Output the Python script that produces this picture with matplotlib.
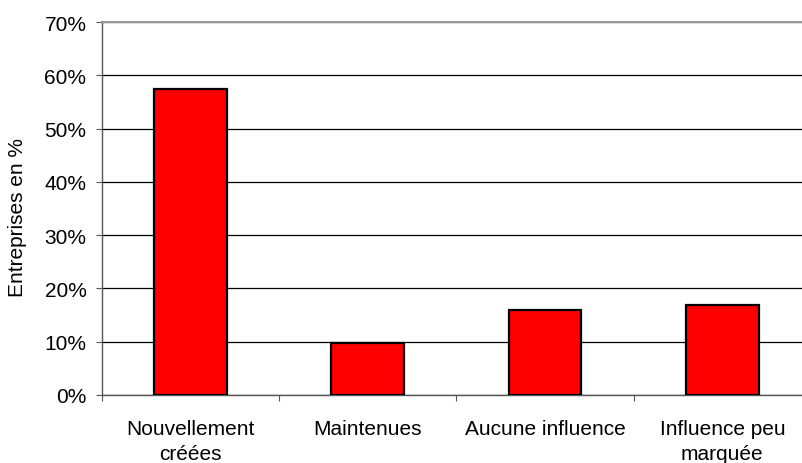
import matplotlib
matplotlib.use("Agg")
import matplotlib.pyplot as plt
from matplotlib.ticker import PercentFormatter

plt.rcParams["font.family"] = ["Liberation Sans", "DejaVu Sans"]

# data
categories = ["Nouvellement\ncréées", "Maintenues", "Aucune influence", "Influence peu\nmarquée"]
values = [57.5, 9.7, 16.0, 16.9]
y_ticks = [0, 10, 20, 30, 40, 50, 60, 70]

fig = plt.figure(figsize=(8.03, 4.64), dpi=100)
ax = fig.add_axes([0.1266, 0.1466, 0.8834, 0.8038])

x = list(range(len(categories)))
ax.bar(x, values, width=0.41, color="#ff0000", edgecolor="black", linewidth=1.6, zorder=3)

ax.set_xlim(-0.5, len(categories) - 0.5)
ax.set_ylim(0, 70)
ax.set_yticks(y_ticks)
ax.yaxis.set_major_formatter(PercentFormatter(decimals=0))
ax.grid(axis="y", color="black", linewidth=0.9, zorder=0)

# category boundary ticks on x
ax.set_xticks([i - 0.5 for i in range(len(categories) + 1)])
ax.set_xticklabels([])
ax.set_xticks(x, minor=True)
ax.set_xticklabels(categories, minor=True, fontsize=15, linespacing=1.43)
ax.tick_params(axis="x", which="minor", length=0, pad=17)
ax.tick_params(axis="x", which="major", length=4, color="#555555", direction="out")
ax.tick_params(axis="y", length=4, color="#555555", labelsize=15, pad=7)

for side in ["left", "bottom"]:
    ax.spines[side].set_color("#555555")
    ax.spines[side].set_linewidth(1.0)
ax.spines["top"].set_color("#999999")
ax.spines["top"].set_linewidth(1.5)
ax.spines["right"].set_visible(False)

fig.text(18 / 803, 0.532, "Entreprises en %", rotation=90, fontsize=15,
         ha="center", va="center")

fig.savefig("out.png", dpi=100)
